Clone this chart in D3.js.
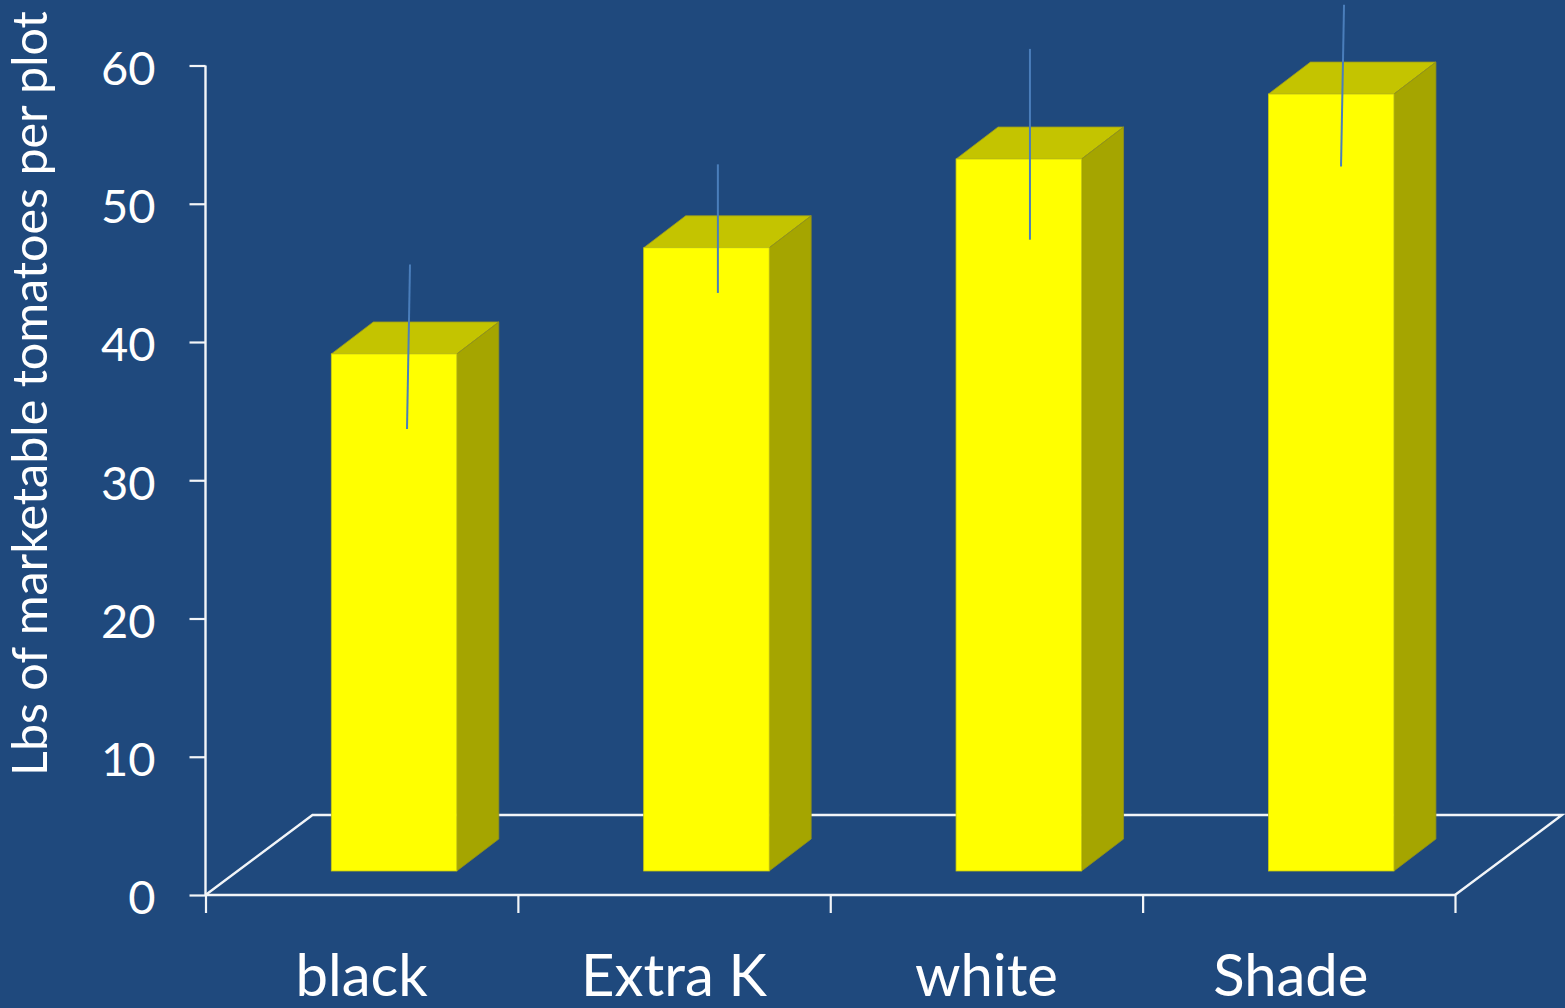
<!DOCTYPE html>
<html><head><meta charset="utf-8">
<script src="https://cdn.jsdelivr.net/npm/d3@7"></script>
<style>html,body{margin:0;padding:0;background:#1F497D;overflow:hidden}svg{display:block}text{font-family:Lato,"Open Sans",sans-serif;fill:#fff}</style>
</head><body><svg id="c" width="1565" height="1008"></svg>
<script>
const categories = ["black","Extra K","white","Shade"];
const values = [37.4,45.08,51.5,56.2];
const errorHigh = [45.6,52.85,61.2,64.4];
const errorLow = [33.7,43.55,47.4,52.7];
const yTicks = [0,10,20,30,40,50,60];
const yTitle = "Lbs of marketable tomatoes per plot";

const W=1565,H=1008,x0=205.5,x1=1455,y0=895,y60=65.5;
const svg=d3.select("#c");
svg.append("rect").attr("width",W).attr("height",H).attr("fill","#1F497D");
const x=d3.scaleBand().domain(categories).range([x0,x1]);
const y=d3.scaleLinear().domain([0,60]).range([y0,y60]);
const floorDx=107,floorDy=-80,frontDy=-24,depthX=42,depthY=-32;
const barW=125.5,barOff=125.8;
const white="#F2F5F8";

// floor
svg.append("path").attr("d",d3.line()([[x0,y0],[x0+floorDx,y0+floorDy],[x1+floorDx,y0+floorDy],[x1,y0]]))
  .attr("fill","none").attr("stroke",white).attr("stroke-width",2.4);

// axes
const yAxis=d3.axisLeft(y).tickValues(yTicks).tickSize(16).tickPadding(34).tickFormat(d3.format("d"));
const gy=svg.append("g").attr("transform",`translate(${x0},0)`).call(yAxis);
const xTickScale=d3.scaleLinear().domain([0,categories.length]).range([x0,x1]);
const xAxis=d3.axisBottom(xTickScale).tickValues(d3.range(categories.length+1)).tickSize(18).tickFormat("");
const gx=svg.append("g").attr("transform",`translate(0,${y0})`).call(xAxis);
[gy,gx].forEach(g=>{g.selectAll(".domain").attr("stroke",white).attr("stroke-width",2.4).attr("d",g===gy?`M0,${y60}V${y0}`:`M${x0},0H${x1}`);
  g.selectAll("line").attr("stroke",white).attr("stroke-width",2.2);});
gy.selectAll("text").style("font-size","47px").attr("fill","#fff").attr("dy","0.4em").attr("x",-50);

// bars
const bars=svg.selectAll("g.bar").data(categories).enter().append("g").attr("class","bar");
const L=c=>x(c)+barOff, R=c=>L(c)+barW;
const T=(c,i)=>y(values[i])+frontDy, B=y(0)+frontDy;
const edge=.8;
bars.append("path").attr("fill","#C4C400").attr("stroke","#9a9a20").attr("stroke-width",edge)
  .attr("d",(c,i)=>d3.line()([[L(c),T(c,i)],[L(c)+depthX,T(c,i)+depthY],[R(c)+depthX,T(c,i)+depthY],[R(c),T(c,i)]])+"Z");
bars.append("path").attr("fill","#A5A500").attr("stroke","#8f8f20").attr("stroke-width",edge)
  .attr("d",(c,i)=>d3.line()([[R(c),T(c,i)],[R(c)+depthX,T(c,i)+depthY],[R(c)+depthX,B+depthY],[R(c),B]])+"Z");
bars.append("rect").attr("fill","#FFFF00").attr("stroke","#c8c810").attr("stroke-width",edge)
  .attr("x",L).attr("y",T).attr("width",barW).attr("height",(c,i)=>B-T(c,i));

// error bars: slightly slanted in the original 3-D projection
const errLean=[3,0,0,3], errCentre=[203,200,199.7,199.9];
svg.selectAll("line.err").data(categories).enter().append("line").attr("class","err")
  .attr("x1",(c,i)=>x(c)+errCentre[i]+errLean[i]/2)
  .attr("x2",(c,i)=>x(c)+errCentre[i]-errLean[i]/2)
  .attr("y1",(c,i)=>y(errorHigh[i])).attr("y2",(c,i)=>y(errorLow[i]))
  .attr("stroke","#4A7EBB").attr("stroke-width",2);

// category labels
svg.selectAll("text.cat").data(categories).enter().append("text").attr("class","cat")
  .attr("x",(c,i)=>x(c)+x.bandwidth()/2+(c==="Shade"?-8:0)).attr("y",996).attr("text-anchor","middle")
  .style("font-size","58px").text(c=>c);

// y title
svg.append("text").attr("transform","translate(47,393.5) rotate(-90)").attr("text-anchor","middle")
  .style("font-size","48.4px").text(yTitle);
</script></body></html>
